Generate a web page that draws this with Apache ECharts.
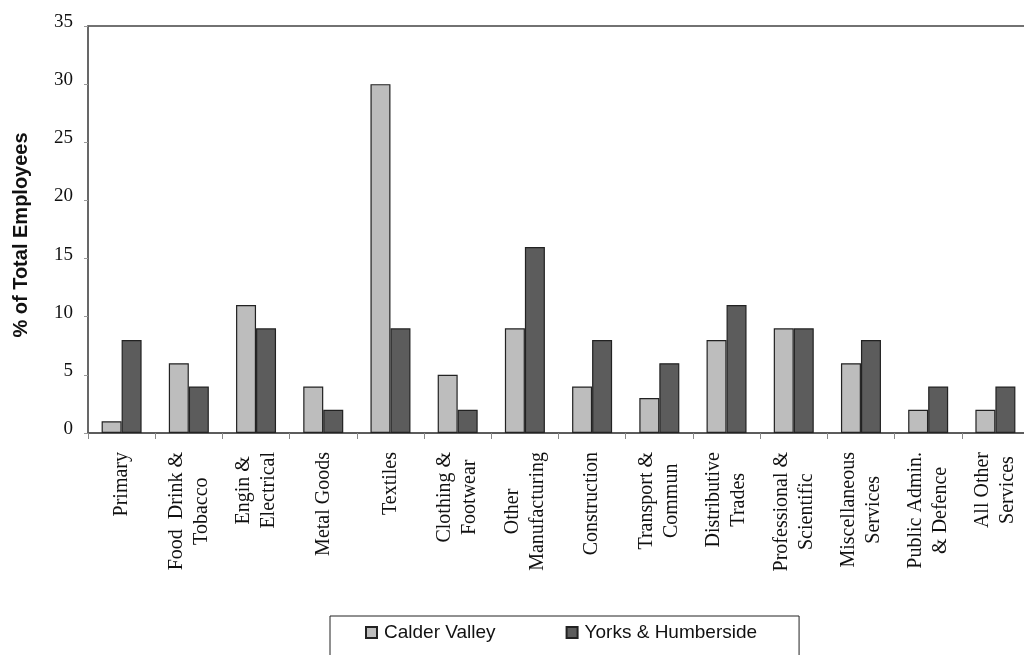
<!DOCTYPE html>
<html>
<head>
<meta charset="utf-8">
<script src="https://cdn.jsdelivr.net/npm/echarts@6/dist/echarts.min.js"></script>
<style>
  html, body { margin: 0; padding: 0; background: #fff; }
  #chart { width: 1024px; height: 655px; }
</style>
</head>
<body>
<div id="chart"></div>
<script>
// Industry sectors (two-line labels)
const categories = [
  'Primary',
  'Food  Drink &\nTobacco',
  'Engin &\nElectrical',
  'Metal Goods',
  'Textiles',
  'Clothing &\nFootwear',
  'Other\nManufacturing',
  'Construction',
  'Transport &\nCommun',
  'Distributive\nTrades',
  'Professional &\nScientific',
  'Miscellaneous\nServices',
  'Public Admin.\n& Defence',
  'All Other\nServices'
];

// Share of total employees, %
const calderValley = [1, 6, 11, 4, 30, 5, 9, 4, 3, 8, 9, 6, 2, 2];
const yorksHumberside = [8, 4, 9, 2, 9, 2, 16, 8, 6, 11, 9, 8, 4, 4];

const seriesNames = ['Calder Valley', 'Yorks & Humberside'];

const chart = echarts.init(document.getElementById('chart'));

const serif = 'Liberation Serif, Times New Roman, serif';
const sans = 'Liberation Sans, Arial, sans-serif';

// each line of a category label is centred within its block
const centreLines = (v) => v.split('\n').map((s) => '{c|' + s + '}').join('\n');

chart.setOption({
  backgroundColor: '#ffffff',
  animation: false,
  grid: {
    left: 88,
    top: 26,
    width: 941,
    height: 407,
    outerBoundsMode: 'none',
    show: true,
    borderColor: '#444',
    borderWidth: 1.5,
    backgroundColor: 'transparent'
  },
  legend: {
    left: 330,
    top: 616,
    data: seriesNames,
    icon: 'rect',
    itemWidth: 11,
    itemHeight: 11,
    itemGap: 70,
    padding: [7, 42, 30, 35],
    borderColor: '#222',
    borderWidth: 1,
    textStyle: { fontFamily: sans, fontSize: 19, color: '#111', padding: [0, 0, 0, 2] }
  },
  xAxis: {
    type: 'category',
    data: categories,
    axisLine: { lineStyle: { color: '#555', width: 1.5 } },
    axisTick: { show: true, length: 6, lineStyle: { color: '#888' } },
    axisLabel: {
      rotate: 90,
      interval: 0,
      margin: 19,
      fontFamily: serif,
      fontSize: 20,
      lineHeight: 25,
      color: '#111',
      formatter: centreLines,
      rich: {
        c: { align: 'center', fontFamily: serif, fontSize: 20, lineHeight: 25, color: '#111' }
      }
    }
  },
  yAxis: {
    type: 'value',
    min: 0,
    max: 35,
    interval: 5,
    name: '% of Total Employees',
    nameLocation: 'middle',
    nameGap: 57,
    nameTextStyle: {
      fontFamily: sans,
      fontSize: 20,
      fontWeight: 'bold',
      color: '#111',
      padding: [0, 11, 0, 0]
    },
    axisLine: { show: true, lineStyle: { color: '#666', width: 1.5 } },
    axisTick: { show: true, length: 4, lineStyle: { color: '#999' } },
    splitLine: { show: false },
    axisLabel: {
      fontFamily: serif,
      fontSize: 19,
      color: '#111',
      margin: 15,
      verticalAlign: 'bottom',
      lineHeight: 8
    }
  },
  series: [
    {
      name: seriesNames[0],
      type: 'bar',
      data: calderValley,
      barWidth: 20,
      barGap: '0%',
      itemStyle: { color: '#bdbdbd', borderColor: '#222', borderWidth: 1.2 }
    },
    {
      name: seriesNames[1],
      type: 'bar',
      data: yorksHumberside,
      barWidth: 20,
      itemStyle: { color: '#5c5c5c', borderColor: '#222', borderWidth: 1.2 }
    }
  ]
});
</script>
</body>
</html>
